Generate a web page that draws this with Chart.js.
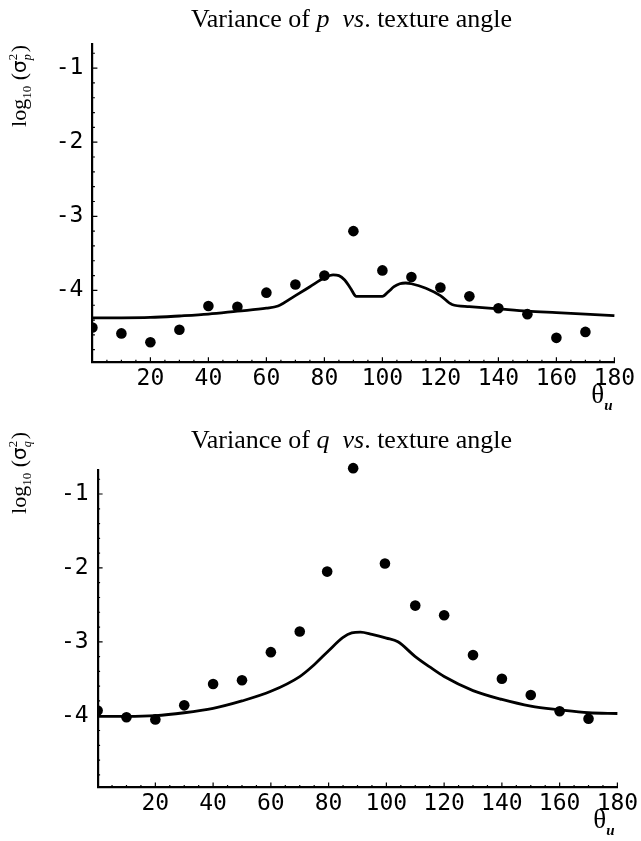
<!DOCTYPE html>
<html>
<head>
<meta charset="utf-8">
<script src="https://cdn.jsdelivr.net/npm/chart.js@4.4.0/dist/chart.umd.min.js"></script>
<style>
  body { margin: 0; background: #fff; }
  canvas { display: block; }
</style>
</head>
<body>
<canvas id="chartP" width="641" height="420"></canvas>
<canvas id="chartQ" width="641" height="421"></canvas>
<script>
// ---------- Data ----------
const xTicks = [20, 40, 60, 80, 100, 120, 140, 160, 180];
const yTicks = [-4, -3, -2, -1];
const yMin = -4.97;
const yMax = -0.675;
const xMinorStep = 5;
const yMinorStep = 0.2;

// variance of p (dots + model curve)
const pAngles = [0, 10, 20, 30, 40, 50, 60, 70, 80, 90, 100, 110, 120, 130, 140, 150, 160, 170];
const pValues = [-4.50, -4.58, -4.70, -4.53, -4.21, -4.22, -4.03, -3.92, -3.80, -3.20, -3.73, -3.82, -3.96, -4.08, -4.24, -4.32, -4.64, -4.56];
const pCurveX = [0, 10, 20, 30, 40, 50, 60, 64, 70, 75, 80, 83, 85, 87, 89, 91, 100, 102, 104, 106, 108, 110, 115, 120, 124, 130, 140, 150, 160, 170, 180];
const pCurveY = [-4.37, -4.37, -4.365, -4.345, -4.32, -4.28, -4.24, -4.21, -4.07, -3.95, -3.83, -3.79, -3.80, -3.86, -3.97, -4.08, -4.08, -4.02, -3.95, -3.91, -3.90, -3.91, -3.97, -4.07, -4.19, -4.22, -4.25, -4.28, -4.30, -4.32, -4.34];

// variance of q
const qAngles = [0, 10, 20, 30, 40, 50, 60, 70, 79.5, 88.5, 99.5, 110, 120, 130, 140, 150, 160, 170];
const qValues = [-3.93, -4.02, -4.05, -3.86, -3.57, -3.52, -3.14, -2.86, -2.05, -0.65, -1.94, -2.51, -2.64, -3.18, -3.50, -3.72, -3.94, -4.04];
const qCurveX = [0, 10, 20, 30, 40, 50, 60, 70, 75, 80, 85, 88, 91, 95, 100, 104, 110, 115, 120, 130, 140, 150, 160, 170, 180];
const qCurveY = [-4.01, -4.01, -4.0, -3.96, -3.90, -3.80, -3.67, -3.47, -3.31, -3.12, -2.94, -2.88, -2.87, -2.90, -2.95, -3.0, -3.20, -3.34, -3.47, -3.66, -3.78, -3.87, -3.92, -3.96, -3.97];

// ---------- Helpers ----------
function zip(xs, ys) {
  return xs.map((x, i) => ({ x: x, y: ys[i] }));
}

// draw a row of text pieces; each piece: {t, f, dy}
function drawRuns(ctx, runs, cx, baseline) {
  let total = 0;
  runs.forEach(r => { ctx.font = r.f; r.w = r.adv !== undefined ? r.adv : ctx.measureText(r.t).width; total += r.w; });
  let x = cx - total / 2;
  runs.forEach(r => {
    ctx.font = r.f;
    if (r.t) ctx.fillText(r.t, x, baseline + (r.dy || 0));
    if (r.sup) { ctx.font = r.supF; ctx.fillText(r.sup, x, baseline + r.supDy); }
    x += r.w;
  });
}

const SERIF = "'Liberation Serif', 'Times New Roman', serif";

function textPlugin(cfg) {
  return {
    id: "texts",
    afterDraw(chart) {
      const ctx = chart.ctx;
      const xs = chart.scales.x, ys = chart.scales.y;
      const area = chart.chartArea;
      ctx.save();

      // small inward tick marks (major + minor)
      ctx.strokeStyle = "#000";
      ctx.lineWidth = 1.2;
      ctx.beginPath();
      for (let v = xMinorStep; v <= 180; v += xMinorStep) {
        const px = xs.getPixelForValue(v);
        const len = xTicks.includes(v) ? 5 : 2.5;
        ctx.moveTo(px, area.bottom);
        ctx.lineTo(px, area.bottom - len);
      }
      ctx.stroke();
      ctx.beginPath();
      for (let v = -4.8; v <= yMax; v += yMinorStep) {
        const r = Math.round(v * 10) / 10;
        const py = ys.getPixelForValue(r);
        const len = yTicks.includes(r) ? 5 : 2.5;
        ctx.moveTo(area.left, py);
        ctx.lineTo(area.left + len, py);
      }
      ctx.stroke();

      ctx.fillStyle = "#000";
      ctx.textBaseline = "alphabetic";
      ctx.textAlign = "left";

      // title
      drawRuns(ctx, [
        { t: "Variance of ", f: "26px " + SERIF },
        { t: cfg.letter, f: "italic 26px " + SERIF },
        { t: "  vs", f: "italic 26px " + SERIF },
        { t: ". texture angle", f: "26px " + SERIF }
      ], cfg.titleX, cfg.titleY);

      // y label, rotated
      ctx.save();
      ctx.translate(cfg.ylabX, cfg.ylabY);
      ctx.rotate(-Math.PI / 2);
      drawRuns(ctx, [
        { t: "log", f: "22px " + SERIF },
        { t: "10", f: "13px " + SERIF, dy: 5 },
        { t: " (", f: "22px " + SERIF },
        { t: "σ", f: "20px 'DejaVu Sans'" },
        { t: cfg.letter, f: "italic 12px " + SERIF, dy: 5, sup: "2", supF: "13px " + SERIF, supDy: -9, adv: 8 },
        { t: ")", f: "22px " + SERIF }
      ], 0, 0);
      ctx.restore();

      // theta_u
      drawRuns(ctx, [
        { t: "θ", f: "27px " + SERIF },
        { t: "u", f: "italic bold 15px " + SERIF, dy: 7 }
      ], cfg.thX, cfg.thY);

      ctx.restore();
    }
  };
}

const noClipLeftOnly = { left: 0, top: false, right: false, bottom: false };

function makeChart(id, cfg) {
  const H = cfg.height;
  return new Chart(document.getElementById(id), {
    data: {
      datasets: [
        {
          type: "scatter",
          data: zip(cfg.dotX, cfg.dotY),
          backgroundColor: "#000",
          borderWidth: 0,
          pointRadius: 5.3,
          clip: noClipLeftOnly
        },
        {
          type: "line",
          data: zip(cfg.curveX, cfg.curveY),
          borderColor: "#000",
          borderWidth: 2.8,
          pointRadius: 0,
          fill: false,
          cubicInterpolationMode: "monotone",
          clip: noClipLeftOnly
        }
      ]
    },
    options: {
      responsive: false,
      animation: false,
      events: [],
      layout: { padding: { left: 0, right: 641 - cfg.right, top: cfg.top, bottom: 0 } },
      plugins: { legend: { display: false }, tooltip: { enabled: false } },
      scales: {
        x: {
          type: "linear",
          min: 0,
          max: 180,
          afterBuildTicks: s => { s.ticks = xTicks.map(v => ({ value: v })); },
          afterFit: s => { s.height = H - cfg.bottom; s.paddingLeft = 0; s.paddingRight = 0; },
          border: { display: true, color: "#000", width: 2.2 },
          grid: { display: false, drawTicks: false },
          ticks: { color: "#000", font: { family: "'DejaVu Sans Mono'", size: 23 }, padding: 3, maxRotation: 0, autoSkip: false }
        },
        y: {
          type: "linear",
          min: yMin,
          max: yMax,
          afterBuildTicks: s => { s.ticks = yTicks.map(v => ({ value: v })); },
          afterFit: s => { s.width = cfg.left; s.paddingTop = 0; s.paddingBottom = 0; },
          border: { display: true, color: "#000", width: 2.2 },
          grid: { display: false, drawTicks: false },
          ticks: { color: "#000", font: { family: "'DejaVu Sans Mono'", size: 23 }, padding: 9, autoSkip: false }
        }
      }
    },
    plugins: [textPlugin(cfg)]
  });
}

// ---------- Charts ----------
makeChart("chartP", {
  height: 420, left: 92.4, right: 614.4, top: 44, bottom: 362.3,
  dotX: pAngles, dotY: pValues, curveX: pCurveX, curveY: pCurveY,
  letter: "p", titleX: 351.5, titleY: 27,
  ylabX: 26, ylabY: 86, thX: 602, thY: 403
});

makeChart("chartQ", {
  height: 421, left: 97.6, right: 617.4, top: 50, bottom: 367.4,
  dotX: qAngles, dotY: qValues, curveX: qCurveX, curveY: qCurveY,
  letter: "q", titleX: 351.5, titleY: 28,
  ylabX: 26, ylabY: 53, thX: 604, thY: 408
});
</script>
</body>
</html>
